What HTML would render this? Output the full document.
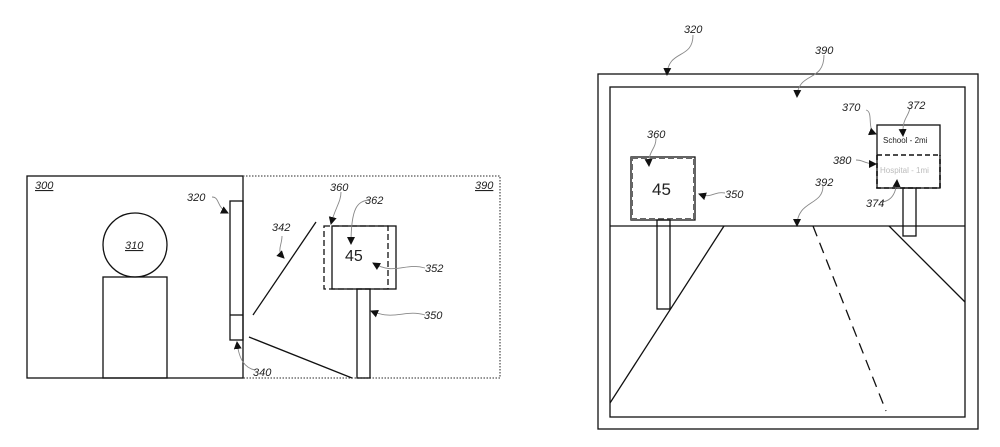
<!DOCTYPE html>
<html><head><meta charset="utf-8"><style>
html,body{margin:0;padding:0;background:#fff;}
svg{display:block;}
text{font-family:"Liberation Sans",sans-serif;font-style:italic;font-size:11px;fill:#222;}
.n{font-style:normal;}
</style></head><body>
<svg width="1000" height="447" viewBox="0 0 1000 447" xmlns="http://www.w3.org/2000/svg">
<defs><marker id="a" markerWidth="8" markerHeight="8" refX="7" refY="4" orient="auto" markerUnits="userSpaceOnUse"><path d="M0,0 L8,4 L0,8 z" fill="#111"/></marker></defs>
<g fill="none" stroke="#111" stroke-width="1.3">
<!-- left figure -->
<rect x="27" y="176" width="216" height="202"/>
<path d="M243 176 H500 V378 H243" stroke-dasharray="1.5,1.5" stroke="#555"/>
<circle cx="135" cy="245" r="32"/>
<rect x="103" y="277" width="64" height="101"/>
<rect x="230" y="201" width="13" height="139"/>
<line x1="230" y1="315" x2="243" y2="315"/>
<line x1="253" y1="315" x2="316" y2="222"/>
<line x1="249" y1="337" x2="352" y2="378"/>
<rect x="332" y="226" width="64" height="63"/>
<rect x="324" y="226" width="64" height="63" stroke-dasharray="6,3"/>
<rect x="357" y="289" width="13" height="89"/>
<!-- right figure -->
<rect x="598" y="74" width="380" height="355"/>
<rect x="610" y="87" width="355" height="330"/>
<line x1="610" y1="226" x2="965" y2="226"/>
<line x1="724" y1="226" x2="610" y2="403"/>
<line x1="889" y1="226" x2="965" y2="302"/>
<line x1="813" y1="226" x2="886" y2="411" stroke-dasharray="11,7"/>
<rect x="631" y="157" width="64" height="63"/>
<rect x="632" y="158" width="62" height="61" stroke-dasharray="6,3" stroke="#666" stroke-width="2"/>
<rect x="657" y="220" width="13" height="89"/>
<rect x="877" y="125" width="63" height="63"/>
<line x1="877" y1="155" x2="940" y2="155" stroke-dasharray="5,3" stroke-width="1.6"/>
<path d="M877 155 V188 H940 V155" stroke-dasharray="5,3" stroke-width="1.6"/>
<rect x="903" y="188" width="13" height="48"/>
</g>
<g fill="none" stroke="#888" stroke-width="0.9" marker-end="url(#a)">
<path d="M212 197 c8 0 4 10 16 16"/>
<path d="M255 370 c-10 -2 -16 -10 -18 -28"/>
<path d="M282 236 c0 10 -6 14 2 22"/>
<path d="M341 192 c0 10 -6 16 -10 32"/>
<path d="M368 200 c-10 2 -17 6 -17 44"/>
<path d="M425 268 c-20 -6 -30 8 -52 -5"/>
<path d="M425 315 c-20 -6 -30 6 -54 -4"/>
<path d="M693 35 c0 25 -25 14 -26 40"/>
<path d="M824 55 c0 28 -26 16 -27 42"/>
<path d="M656 138 c0 12 -8 12 -7 28"/>
<path d="M725 193 c-12 -2 -12 6 -26 1"/>
<path d="M866 110 c8 2 0 20 10 24"/>
<path d="M910 108 c-2 10 -8 10 -7 28"/>
<path d="M856 160 c8 0 8 4 20 4"/>
<path d="M823 186 c0 20 -26 14 -26 40"/>
<path d="M880 202 c8 0 16 -4 17 -22"/>
</g>
<text x="35" y="189" text-decoration="underline">300</text>
<text x="475" y="189" text-decoration="underline">390</text>
<text x="125" y="249" text-decoration="underline">310</text>
<text x="187" y="201">320</text>
<text x="272" y="231">342</text>
<text x="330" y="191">360</text>
<text x="365" y="204">362</text>
<text x="425" y="272">352</text>
<text x="424" y="319">350</text>
<text x="253" y="376">340</text>
<text class="n" x="345" y="261" style="font-size:16px">45</text>
<text x="684" y="33">320</text>
<text x="815" y="54">390</text>
<text x="647" y="138">360</text>
<text x="725" y="198">350</text>
<text x="842" y="111">370</text>
<text x="907" y="109">372</text>
<text x="833" y="164">380</text>
<text x="815" y="186">392</text>
<text x="866" y="207">374</text>
<text class="n" x="652" y="195" style="font-size:17px">45</text>
<text class="n" x="883" y="143" style="font-size:8px">School - 2mi</text>
<text class="n" x="880" y="173" style="font-size:8px;fill:#bbb">Hospital - 1mi</text>
</svg>
</body></html>
